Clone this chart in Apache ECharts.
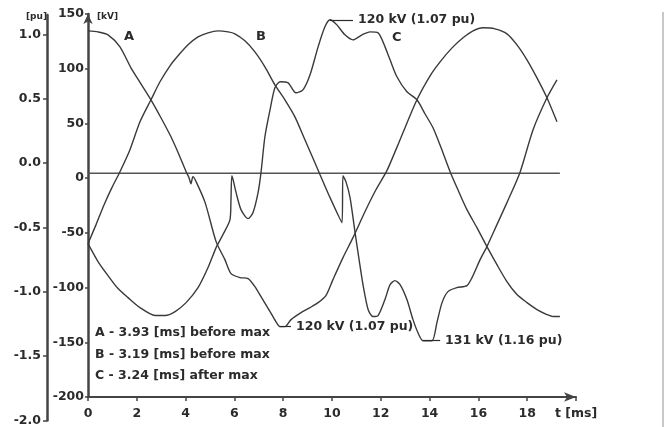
<!DOCTYPE html>
<html>
<head>
<meta charset="utf-8">
<script src="https://cdn.jsdelivr.net/npm/echarts@6/dist/echarts.min.js"></script>
<style>
  html, body { margin: 0; background: #fff; }
  #chart { width: 670px; height: 427px; }
</style>
</head>
<body>
<div id="chart"></div>
<script>
// [t in ms, voltage in kV]
var phaseA = [
  [0, 111.3], [0.41, 110.5], [0.82, 108.2], [1.31, 98.8], [1.76, 82.4], [2.17, 69.9],
  [2.58, 57.4], [2.99, 43.4], [3.40, 28.5], [3.73, 14.5], [4.02, 1.2], [4.14, -3.5],
  [4.22, -8.2], [4.30, -2.7], [4.43, -6.6], [4.80, -23.0], [5.25, -53.5], [5.61, -67.6],
  [5.86, -78.5], [6.23, -81.6], [6.56, -82.4], [6.84, -88.7], [7.09, -96.5], [7.46, -108.2],
  [7.70, -116.0], [7.87, -120], [8.07, -120], [8.32, -114.5], [8.73, -109.0], [9.10, -105.1],
  [9.43, -101.2], [9.75, -95.7], [10.04, -83.2], [10.45, -66.0], [10.86, -50.4], [11.35, -30.1],
  [11.80, -12.9], [12.25, 2.0], [12.79, 26.2], [13.48, 57.4], [14.02, 76.2], [14.43, 87.1],
  [14.92, 98.0], [15.37, 105.9], [15.78, 111.3], [16.19, 113.7], [16.68, 112.9], [17.17, 109.0],
  [17.58, 100.4], [17.99, 88.7], [18.40, 74.6], [18.81, 59.0], [19.22, 40.2]
];
var phaseB = [
  [0, -55.1], [0.33, -40.2], [0.66, -24.6], [0.98, -11.3], [1.31, 1.2], [1.72, 18.4],
  [2.13, 40.2], [2.58, 57.4], [2.95, 71.5], [3.36, 84.0], [3.69, 91.8], [4.10, 100.4],
  [4.51, 106.6], [4.92, 109.8], [5.33, 111.3], [5.74, 110.5], [6.02, 109.0], [6.43, 103.5],
  [6.84, 94.9], [7.25, 83.2], [7.66, 69.1], [8.07, 57.4], [8.48, 44.1], [8.89, 26.2],
  [9.30, 8.2], [9.51, -1.2], [9.92, -19.1], [10.41, -38.7], [10.45, -2.0], [10.57, -6.6],
  [10.74, -19.1], [10.94, -45.7], [11.11, -67.6], [11.27, -87.1], [11.48, -106.6], [11.68, -112.1],
  [11.89, -111.3], [12.17, -98.8], [12.38, -87.1], [12.58, -84.0], [12.79, -87.1], [13.07, -98.8],
  [13.32, -114.5], [13.52, -124.6], [13.73, -131], [14.10, -131], [14.30, -116.8], [14.51, -101.2],
  [14.75, -92.6], [15.12, -89.5], [15.53, -87.9], [15.74, -81.6], [16.07, -67.6], [16.35, -57.4],
  [16.76, -40.2], [17.17, -23.0], [17.70, 0.4], [18.24, 34.0], [18.81, 59.0], [19.22, 73.0]
];
var phaseC = [
  [0, -55.1], [0.41, -69.1], [0.82, -80.1], [1.23, -90.2], [1.64, -97.3], [2.13, -105.1],
  [2.75, -111.3], [3.16, -111.3], [3.57, -108.2], [4.02, -101.2], [4.51, -89.5], [4.92, -73.8],
  [5.25, -58.2], [5.53, -48.0], [5.82, -36.3], [5.86, -20.7], [5.90, -2.0], [6.07, -15.2],
  [6.27, -28.5], [6.56, -35.5], [6.76, -30.9], [6.97, -15.2], [7.09, 0.4], [7.25, 28.5],
  [7.46, 49.6], [7.66, 66.8], [7.87, 71.5], [8.20, 70.7], [8.52, 62.9], [8.81, 65.2],
  [9.10, 77.0], [9.43, 98.8], [9.71, 114.5], [9.92, 120], [10.20, 116.0], [10.53, 108.2],
  [10.86, 104.3], [11.23, 108.2], [11.56, 110.5], [11.89, 109.8], [12.09, 102.7], [12.38, 88.7],
  [12.66, 75.4], [13.07, 63.7], [13.48, 57.4], [13.81, 46.5], [14.14, 35.5], [14.47, 19.9],
  [14.84, 1.2], [15.16, -12.9], [15.53, -28.5], [15.94, -42.6], [16.35, -57.4], [16.76, -71.5],
  [17.17, -84.8], [17.58, -94.9], [17.99, -101.2], [18.40, -106.6], [18.81, -110.5], [19.06, -112.1],
  [19.34, -112.1]
];
var zeroLine = [[0, 0], [19.34, 0]];

// extreme values marked on the curves: [t, kV, text]
var peakA = [7.87, -120, '120 kV (1.07 pu)'];
var peakB = [13.73, -131, '131 kV (1.16 pu)'];
var peakC = [9.92, 120, '120 kV (1.07 pu)'];

var puTicks = [-2, -1.5, -1, -0.5, 0, 0.5, 1];
var notes = ['A - 3.93 [ms] before max', 'B - 3.19 [ms] before max', 'C - 3.24 [ms] after max'];

var ink = '#2b2b2b';
var font = 'DejaVu Sans';
var chart = echarts.init(document.getElementById('chart'));

function leader(p, len) {
  return {
    silent: true,
    symbol: 'none',
    lineStyle: { color: ink, width: 1.2, type: 'solid' },
    label: {
      show: true, position: 'end', distance: 5, formatter: p[2],
      color: ink, fontFamily: font, fontWeight: 'bold', fontSize: 12.5
    },
    data: [[{ coord: [p[0], p[1]] }, { coord: [p[0] + len, p[1]] }]]
  };
}

function curve(data, mark) {
  return {
    type: 'line', xAxisIndex: 0, yAxisIndex: 0, data: data,
    showSymbol: false, smooth: 0.25,
    lineStyle: { color: '#3a3a3a', width: 1.4 },
    markLine: mark
  };
}

var txt = function (x, y, s, size) {
  return {
    type: 'text', left: x, top: y,
    style: { text: s, fill: ink, font: 'bold ' + size + 'px "' + font + '"' }
  };
};

chart.setOption({
  animation: false,
  grid: [
    { left: 88, right: 94, top: 14, bottom: 30 },
    { left: 47, width: 1, top: 15, bottom: 5 }
  ],
  xAxis: [
    {
      gridIndex: 0, type: 'value', min: 0, max: 20, interval: 2,
      axisLine: { onZero: false, lineStyle: { color: '#444', width: 2 }, symbol: ['none', 'arrow'], symbolSize: [7, 12] },
      axisTick: { length: 4, lineStyle: { color: '#444', width: 1.5 } },
      axisLabel: {
        margin: 10, color: ink, fontFamily: font, fontWeight: 'bold', fontSize: 12.5,
        formatter: function (v) { return v === 20 ? 't [ms]' : v; }
      },
      splitLine: { show: false }
    },
    { gridIndex: 1, type: 'value', show: false }
  ],
  yAxis: [
    { gridIndex: 0, type: 'value', min: -175, max: 124.5, show: false, position: 'left' },
    {
      gridIndex: 0, type: 'value', min: -200, max: 150, interval: 50, position: 'left',
      axisLine: { show: true, onZero: false, lineStyle: { color: '#444', width: 2.5 }, symbol: ['none', 'arrow'], symbolSize: [7, 10] },
      axisTick: { show: true, length: 3, lineStyle: { color: '#444', width: 1.5 } },
      axisLabel: { margin: 4, color: ink, fontFamily: font, fontWeight: 'bold', fontSize: 12.5 },
      splitLine: { show: false }
    },
    {
      gridIndex: 1, type: 'value', min: -2, max: 1.15, position: 'left',
      axisLine: { show: true, onZero: false, lineStyle: { color: '#444', width: 2.5 } },
      axisTick: { show: true, length: 4, customValues: puTicks, lineStyle: { color: '#444', width: 1.5 } },
      axisLabel: {
        margin: 6, color: ink, fontFamily: font, fontWeight: 'bold', fontSize: 12.5,
        customValues: puTicks,
        formatter: function (v) { return v.toFixed(1); }
      },
      splitLine: { show: false }
    }
  ],
  series: [
    {
      type: 'line', xAxisIndex: 0, yAxisIndex: 0, data: zeroLine, showSymbol: false,
      lineStyle: { color: '#555', width: 1.6 }
    },
    curve(phaseA, leader(peakA, 0.45)),
    curve(phaseB, leader(peakB, 0.7)),
    curve(phaseC, leader(peakC, 0.94))
  ],
  graphic: [
    txt(26, 12, '[pu]', 9),
    txt(97, 12, '[kV]', 9),
    txt(124, 30, 'A', 13),
    txt(256, 30, 'B', 13),
    txt(392, 31, 'C', 13),
    txt(95, 326, notes[0], 12.5),
    txt(95, 348, notes[1], 12.5),
    txt(95, 369, notes[2], 12.5),
    {
      type: 'line', silent: true,
      shape: { x1: 663, y1: 12, x2: 663, y2: 427 },
      style: { stroke: '#c8c8c8', lineWidth: 2 }
    }
  ]
});
</script>
</body>
</html>
